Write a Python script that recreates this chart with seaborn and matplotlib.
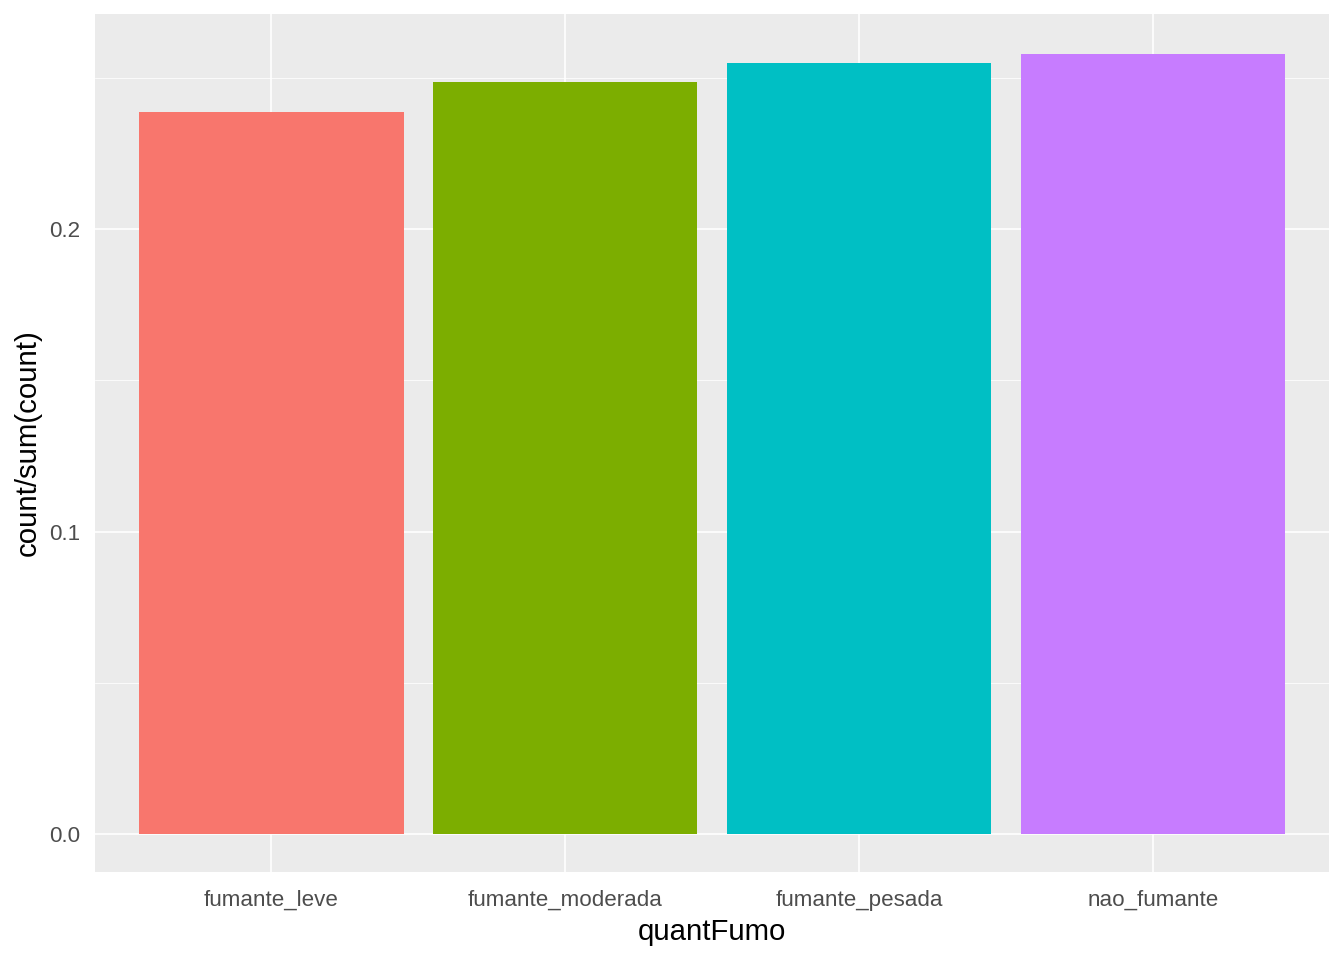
import matplotlib
matplotlib.use('Agg')
import matplotlib.pyplot as plt
import seaborn as sns
import pandas as pd
from matplotlib.ticker import MultipleLocator

categories = ['fumante_leve', 'fumante_moderada', 'fumante_pesada', 'nao_fumante']
proportions = [0.2387, 0.2486, 0.2549, 0.2578]
bar_colors = ['#F8766D', '#7CAE00', '#00BFC4', '#C77CFF']

df = pd.DataFrame({'quantFumo': categories, 'prop': proportions})

sns.set_theme(style='darkgrid')
plt.rcParams['font.family'] = ['Liberation Sans', 'DejaVu Sans']

fig = plt.figure(figsize=(7, 5), dpi=192)
ax = fig.add_axes([95 / 1344, 88 / 960, (1329 - 95) / 1344, (872 - 14) / 960])

sns.barplot(data=df, x='quantFumo', y='prop', hue='quantFumo',
            palette=dict(zip(categories, bar_colors)), width=0.9,
            saturation=1, legend=False, ax=ax)
for p in ax.patches:
    p.set_edgecolor('none')

ax.set_facecolor('#EBEBEB')
ax.set_xlim(-0.6, 3.6)
ax.set_ylim(-0.01256, 0.2711)
ax.yaxis.set_minor_locator(MultipleLocator(0.05))
ax.set_yticks([0.0, 0.1, 0.2])
ax.set_yticklabels(['0.0', '0.1', '0.2'])

ax.grid(which='major', color='white', linewidth=0.6)
ax.grid(which='minor', axis='y', color='white', linewidth=0.3)
ax.set_axisbelow(True)
for s in ax.spines.values():
    s.set_visible(False)

ax.tick_params(axis='both', which='major', length=3.0, width=0.6,
               color='#333333', labelcolor='#4D4D4D', labelsize=8.4)
ax.tick_params(axis='x', which='major', pad=3.6)
ax.tick_params(axis='y', which='major', pad=2.4)
ax.tick_params(axis='both', which='minor', length=0)

ax.set_xlabel('quantFumo', fontsize=11, color='black', labelpad=2.75)
ax.set_ylabel('count/sum(count)', fontsize=11, color='black', labelpad=2.75)

fig.savefig('out.png', dpi=192)
